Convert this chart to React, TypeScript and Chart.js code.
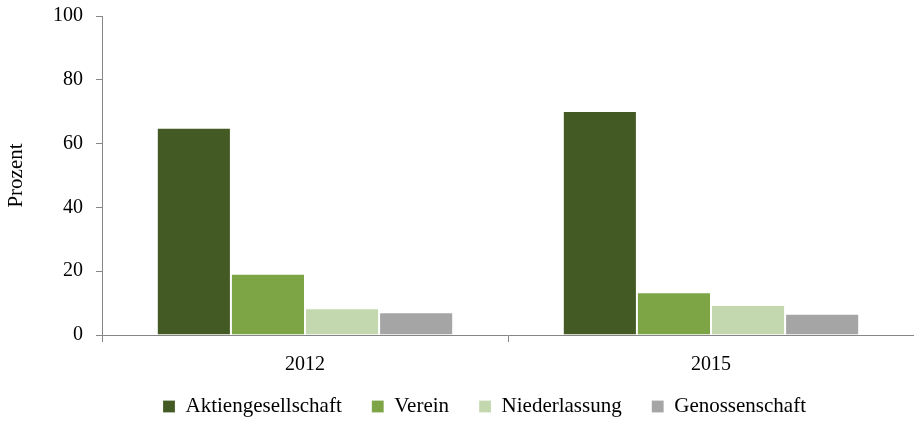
import React, { useEffect, useRef } from "react";
import { Chart, registerables } from "chart.js";

Chart.register(...registerables);

const categories = ["2012", "2015"];
const seriesNames = ["Aktiengesellschaft", "Verein", "Niederlassung", "Genossenschaft"];
const aktiengesellschaft = [65.0, 70.2];
const verein = [19.2, 13.4];
const niederlassung = [8.4, 9.4];
const genossenschaft = [7.1, 6.7];
const colors = ["#435A24", "#7DA546", "#C4D8B0", "#A5A5A5"];
const yTicks = [0, 20, 40, 60, 80, 100];

const FONT = "'Liberation Serif', 'Times New Roman', serif";
const FS = 20;

const legendShift = {
  id: "legendShift",
  afterLayout(chart: any) {
    const lg = chart.legend;
    if (!lg) return;
    lg.left += 55;
    lg.top -= 10;
    lg.bottom -= 10;
  },
};

export default function App() {
  const ref = useRef<HTMLCanvasElement | null>(null);

  useEffect(() => {
    if (!ref.current) return;
    const values = [aktiengesellschaft, verein, niederlassung, genossenschaft];
    const chart = new Chart(ref.current, {
      type: "bar",
      data: {
        labels: categories,
        datasets: seriesNames.map((name, i) => ({
          label: name,
          data: values[i],
          backgroundColor: colors[i],
          borderColor: "rgba(255,255,255,0.2)",
          borderWidth: 1,
          barPercentage: 1,
          categoryPercentage: 0.73,
        })),
      },
      plugins: [legendShift],
      options: {
        animation: false,
        responsive: true,
        maintainAspectRatio: false,
        layout: { padding: { top: 16, right: 0, left: 0, bottom: -16 } },
        plugins: {
          tooltip: { enabled: false },
          legend: {
            position: "bottom",
            labels: {
              boxWidth: 12,
              boxHeight: 12,
              padding: 30,
              color: "#000",
              font: { family: FONT, size: 21 },
            },
          },
        },
        scales: {
          x: {
            grid: {
              display: true,
              drawOnChartArea: false,
              drawTicks: true,
              tickLength: 7,
              color: "#868686",
              offset: true,
            },
            border: { display: true, color: "#868686", width: 1 },
            ticks: { color: "#000", font: { family: FONT, size: FS }, padding: 11 },
            afterFit: (scale: any) => {
              scale.height = 41;
            },
          },
          y: {
            min: 0,
            max: 100,
            afterBuildTicks: (scale: any) => {
              scale.ticks = yTicks.map((v) => ({ value: v }));
            },
            grid: {
              display: true,
              drawOnChartArea: false,
              drawTicks: true,
              tickLength: 6,
              color: "#868686",
            },
            border: { display: true, color: "#868686", width: 1 },
            ticks: { color: "#000", font: { family: FONT, size: FS }, padding: 13 },
            title: {
              display: true,
              text: "Prozent",
              color: "#000",
              font: { family: FONT, size: 21 },
              padding: { top: 4, bottom: 20 },
            },
            afterFit: (scale: any) => {
              scale.width = 102;
              scale.paddingTop = 0;
              scale.paddingBottom = 0;
            },
          },
        },
      },
    });
    return () => chart.destroy();
  }, []);

  return (
    <div style={{ position: "fixed", left: 0, top: 0, width: 914, height: 421, background: "#fff" }}>
      <canvas ref={ref} />
    </div>
  );
}
